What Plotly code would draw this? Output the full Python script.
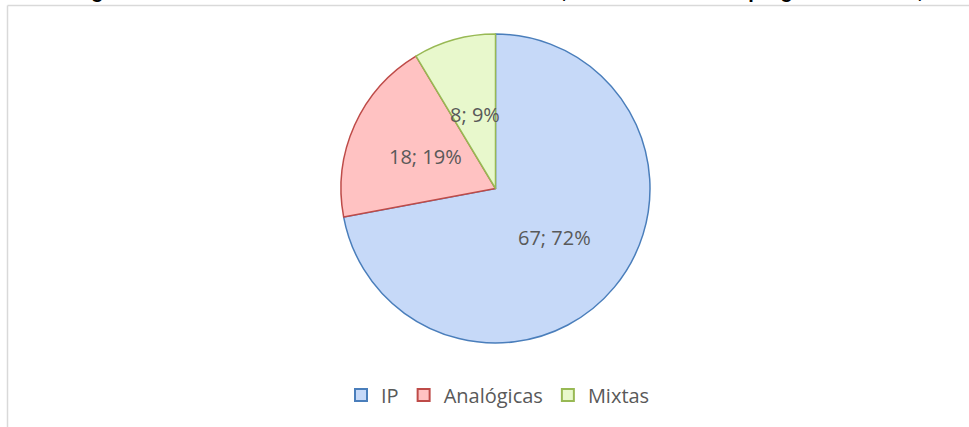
import math
import plotly.graph_objects as go

categories = ["IP", "Analógicas", "Mixtas"]
values = [67, 18, 8]
fill_colors = ["#c6d9f8", "#ffc2c2", "#e8f8cc"]
line_colors = ["#4a7ebb", "#be4b48", "#98b954"]
title_text = ("Tecnologías de las cámaras instaladas en las residencias, "
              "de acuerdo con el programa Escolar, 2018")

W, H = 969, 427

def px(xw):
    return xw / W

def py(yw):
    return 1 - yw / H

# pie domain (window pixels)
x0, x1, yt, yb = 341, 650, 34, 343
cx, cy = (x0 + x1) / 2, (yt + yb) / 2
R = (x1 - x0) / 2

fig = go.Figure()
fig.add_trace(go.Pie(
    labels=categories,
    values=values,
    sort=False,
    direction="clockwise",
    rotation=0,
    marker=dict(colors=fill_colors, line=dict(color=line_colors, width=1.5)),
    textinfo="none",
    hoverinfo="label+value+percent",
    domain=dict(x=[px(x0), px(x1)], y=[py(yb), py(yt)]),
))

# data labels at half radius along each slice bisector
total = sum(values)
annotations = []
cum = 0
for v in values:
    mid = (cum + v / 2) / total * 2 * math.pi
    cum += v
    lx = cx + 0.5 * R * math.sin(mid)
    ly = cy - 0.5 * R * math.cos(mid)
    annotations.append(dict(
        text=f"{v}; {round(100 * v / total)}%", xref="paper", yref="paper",
        x=px(lx), y=py(ly), xanchor="center", yanchor="middle",
        showarrow=False,
        font=dict(family="Open Sans, sans-serif", size=20, color="#595959")))

annotations.append(dict(
    text="<b>" + title_text + "</b>", xref="paper", yref="paper",
    x=px(14), y=1, xanchor="left", yanchor="bottom", yshift=-4,
    showarrow=False,
    font=dict(family="Liberation Sans Narrow, Liberation Sans, sans-serif",
              size=20, color="#000000")))

fig.update_layout(
    width=W, height=H,
    margin=dict(l=0, r=0, t=0, b=0),
    paper_bgcolor="white",
    plot_bgcolor="white",
    showlegend=True,
    legend=dict(
        orientation="h",
        x=px(498), xanchor="center",
        y=py(395), yanchor="middle",
        font=dict(family="Open Sans, sans-serif", size=20, color="#595959"),
        itemsizing="constant",
        traceorder="normal",
    ),
    shapes=[
        dict(type="line", xref="paper", yref="paper",
             x0=px(7.5), x1=1.0, y0=py(5.5), y1=py(5.5),
             line=dict(color="#d9d9d9", width=1.5)),
        dict(type="line", xref="paper", yref="paper",
             x0=px(7.5), x1=px(7.5), y0=0, y1=py(5.5),
             line=dict(color="#d9d9d9", width=1.5)),
    ],
    annotations=annotations,
)

fig.write_html("out.html",
               config={"displayModeBar": False},
               post_script="document.body.style.margin='0';"
                           "document.body.style.overflow='hidden';")
